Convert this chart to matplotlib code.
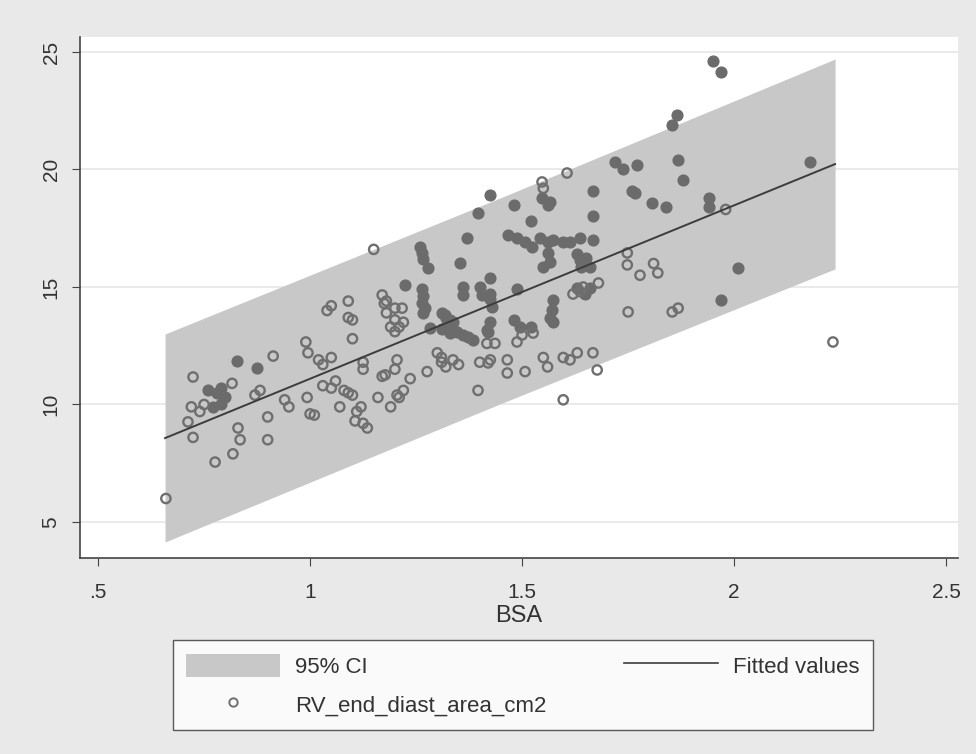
import matplotlib

matplotlib.use("Agg")
import matplotlib.pyplot as plt
from matplotlib.lines import Line2D
from matplotlib.patches import Patch

plt.rcParams["font.family"] = ["Liberation Sans", "DejaVu Sans"]

# fitted line and 95% band, read at the ends and middle of the BSA range
fit_x = [0.658, 1.45, 2.238]
fit_y = [8.57, 14.42, 20.23]
ci_upper = [13.0, 18.8, 24.7]
ci_lower = [4.15, 10.04, 15.77]

# points that print as solid dots
bsa_dark = [0.828, 0.875, 0.76, 0.78, 0.79, 0.80, 0.77, 0.79,
            1.224, 1.26, 1.265, 1.267, 1.278, 1.264, 1.267, 1.264, 1.27, 1.267,
            1.31, 1.32, 1.33, 1.337, 1.283, 1.347, 1.36, 1.373, 1.385,
            1.396, 1.37, 1.424, 1.354, 1.36, 1.36, 1.40, 1.405, 1.425, 1.43, 1.425, 1.425, 1.42,
            1.48, 1.52, 1.566, 1.467, 1.488, 1.507, 1.524, 1.543, 1.56, 1.573, 1.597, 1.613,
            1.637, 1.667, 1.667, 1.56, 1.566, 1.55, 1.573, 1.57, 1.566, 1.573, 1.63, 1.637,
            1.66, 1.66, 1.488, 1.424, 1.318, 1.33, 1.31, 1.33, 1.417, 1.48, 1.495, 1.52,
            1.72, 1.738, 1.77, 1.667, 1.76, 1.766, 1.547, 1.56, 1.65, 1.64, 1.63, 1.648,
            1.865, 1.854, 1.868, 1.88, 1.807, 1.84, 1.94, 1.94, 2.01, 1.97, 1.95, 1.97, 2.18]
rv_dark = [11.85, 11.55, 10.6, 10.5, 10.0, 10.3, 9.9, 10.7,
           15.1, 16.7, 16.45, 16.2, 15.8, 14.9, 14.6, 14.3, 14.1, 13.9,
           13.9, 13.7, 13.6, 13.5, 13.26, 13.1, 12.96, 12.87, 12.74,
           18.15, 17.1, 18.9, 16.0, 15.0, 14.66, 15.0, 14.66, 14.5, 14.15, 15.4, 13.5, 13.1,
           18.5, 17.8, 18.6, 17.2, 17.1, 16.9, 16.7, 17.1, 16.9, 17.0, 16.9, 16.9,
           17.1, 17.0, 18.0, 16.45, 16.06, 15.85, 14.45, 14.0, 13.7, 13.5, 16.4, 16.15,
           15.85, 14.96, 14.9, 14.7, 13.8, 13.5, 13.2, 13.04, 13.17, 13.6, 13.3, 13.3,
           20.3, 20.0, 20.2, 19.1, 19.1, 19.0, 18.8, 18.5, 16.23, 15.85, 14.96, 14.7,
           22.3, 21.9, 20.4, 19.55, 18.57, 18.4, 18.8, 18.4, 15.8, 14.45, 24.6, 24.15, 20.3]

# points that print as open rings
bsa_open = [0.66, 0.724, 0.913, 0.72, 0.74, 0.75, 0.816, 0.712, 0.724, 0.83, 0.835, 0.776,
            0.818, 0.90, 0.90, 0.882, 0.87, 0.94, 0.95, 0.993, 1.0, 1.01, 0.99, 0.995,
            1.02, 1.05, 1.03, 1.03, 1.05, 1.06, 1.07, 1.05, 1.04, 1.09, 1.09, 1.10, 1.10,
            1.08, 1.09, 1.10, 1.125, 1.125, 1.12, 1.11, 1.106, 1.125, 1.135, 1.17, 1.19,
            1.16, 1.18, 1.18, 1.19, 1.20, 1.205, 1.20, 1.15, 1.17, 1.175, 1.20, 1.21, 1.20,
            1.22, 1.217, 1.30, 1.31, 1.31, 1.32, 1.276, 1.337, 1.35, 1.40, 1.42, 1.425,
            1.396, 1.177, 1.236, 1.21, 1.205, 1.22, 1.417, 1.436, 1.50, 1.526, 1.488, 1.597,
            1.613, 1.63, 1.667, 1.677, 1.55, 1.56, 1.507, 1.465, 1.465, 1.597, 1.644, 1.637,
            1.606, 1.547, 1.55, 1.62, 1.68, 1.748, 1.748, 1.778, 1.75, 1.98, 1.868, 1.854,
            1.81, 1.82, 2.233]
rv_open = [6.0, 11.17, 12.06, 9.9, 9.7, 10.0, 10.9, 9.26, 8.6, 9.0, 8.5, 7.55,
           7.9, 9.47, 8.5, 10.6, 10.4, 10.2, 9.9, 10.3, 9.6, 9.55, 12.66, 12.2,
           11.9, 12.0, 11.7, 10.8, 10.7, 11.0, 9.9, 14.2, 14.0, 14.4, 13.7, 13.6, 12.8,
           10.6, 10.5, 10.4, 11.8, 11.5, 9.9, 9.7, 9.3, 9.2, 9.0, 11.2, 9.9,
           10.3, 14.4, 13.9, 13.3, 14.1, 11.9, 11.5, 16.6, 14.66, 14.3, 13.6, 13.3, 13.1,
           13.5, 14.1, 12.2, 12.0, 11.8, 11.6, 11.4, 11.9, 11.7, 11.8, 11.77, 11.9,
           10.6, 11.26, 11.1, 10.3, 10.4, 10.6, 12.6, 12.6, 12.96, 13.04, 12.66, 12.0,
           11.9, 12.2, 12.2, 11.47, 12.0, 11.6, 11.4, 11.9, 11.34, 10.2, 15.0, 14.8,
           19.85, 19.47, 19.2, 14.7, 15.17, 16.45, 15.94, 15.5, 13.94, 18.3, 14.1, 13.94,
           16.0, 15.6, 12.66]

x_ticks = [0.5, 1, 1.5, 2, 2.5]
x_ticklabels = [".5", "1", "1.5", "2", "2.5"]
y_ticks = [5, 10, 15, 20, 25]

band_color = "#c8c8c8"
dot_color = "#6b6b6b"
ring_color = "#6f6f6f"
line_color = "#3c3c3c"

fig = plt.figure(figsize=(9.76, 7.54), dpi=100, facecolor="#e9e9e9")
ax = fig.add_axes([0.082, 0.26, 0.8996, 0.691])
ax.set_facecolor("white")

ax.fill_between(fit_x, ci_lower, ci_upper, color=band_color, lw=0, zorder=1)
ax.plot(fit_x, fit_y, color=line_color, lw=1.4, zorder=3)
ax.scatter(bsa_dark, rv_dark, s=60, color=dot_color, edgecolors=dot_color, zorder=2)
ax.scatter(bsa_open, rv_open, s=45, facecolors="none", edgecolors=ring_color,
           linewidths=1.7, zorder=2)

ax.set_xlim(0.4575, 2.528)
ax.set_ylim(3.47, 25.64)
ax.set_xticks(x_ticks, x_ticklabels)
ax.set_yticks(y_ticks)
ax.tick_params(axis="both", direction="out", length=6, color="#444444", labelsize=15,
               labelcolor="#333333")
ax.tick_params(axis="x", pad=12)
ax.tick_params(axis="y", labelrotation=90, pad=8)
for lab in ax.get_yticklabels():
    lab.set_verticalalignment("center")
ax.grid(axis="y", color="#e6e6e6", lw=1.2, zorder=0)
ax.set_axisbelow(True)
for side in ["top", "right"]:
    ax.spines[side].set_visible(False)
for side in ["left", "bottom"]:
    ax.spines[side].set_color("#444444")
    ax.spines[side].set_linewidth(1.2)
ax.set_xlabel("BSA", fontsize=17, color="#333333", labelpad=2)

handles = [
    Patch(facecolor=band_color, edgecolor="none"),
    Line2D([], [], ls="none", marker="o", markersize=6, markerfacecolor="none",
           markeredgecolor=ring_color, markeredgewidth=1.4),
    Line2D([], [], color=line_color, lw=1.2),
]
labels = ["95% CI", "RV_end_diast_area_cm2", "Fitted values"]
leg = fig.legend(handles, labels, ncol=2, loc="center",
                 bbox_to_anchor=(162 / 976, 1 - 730 / 754, 722 / 976, 90 / 754),
                 mode="expand", fontsize=16, handlelength=4.2, handleheight=1.25,
                 handletextpad=0.7, labelspacing=0.65, borderpad=0.6,
                 fancybox=False, frameon=True, labelcolor="#333333")
leg.get_frame().set_edgecolor("#333333")
leg.get_frame().set_linewidth(1.0)
leg.get_frame().set_facecolor("white")

fig.savefig("out.png", dpi=100, facecolor=fig.get_facecolor())
